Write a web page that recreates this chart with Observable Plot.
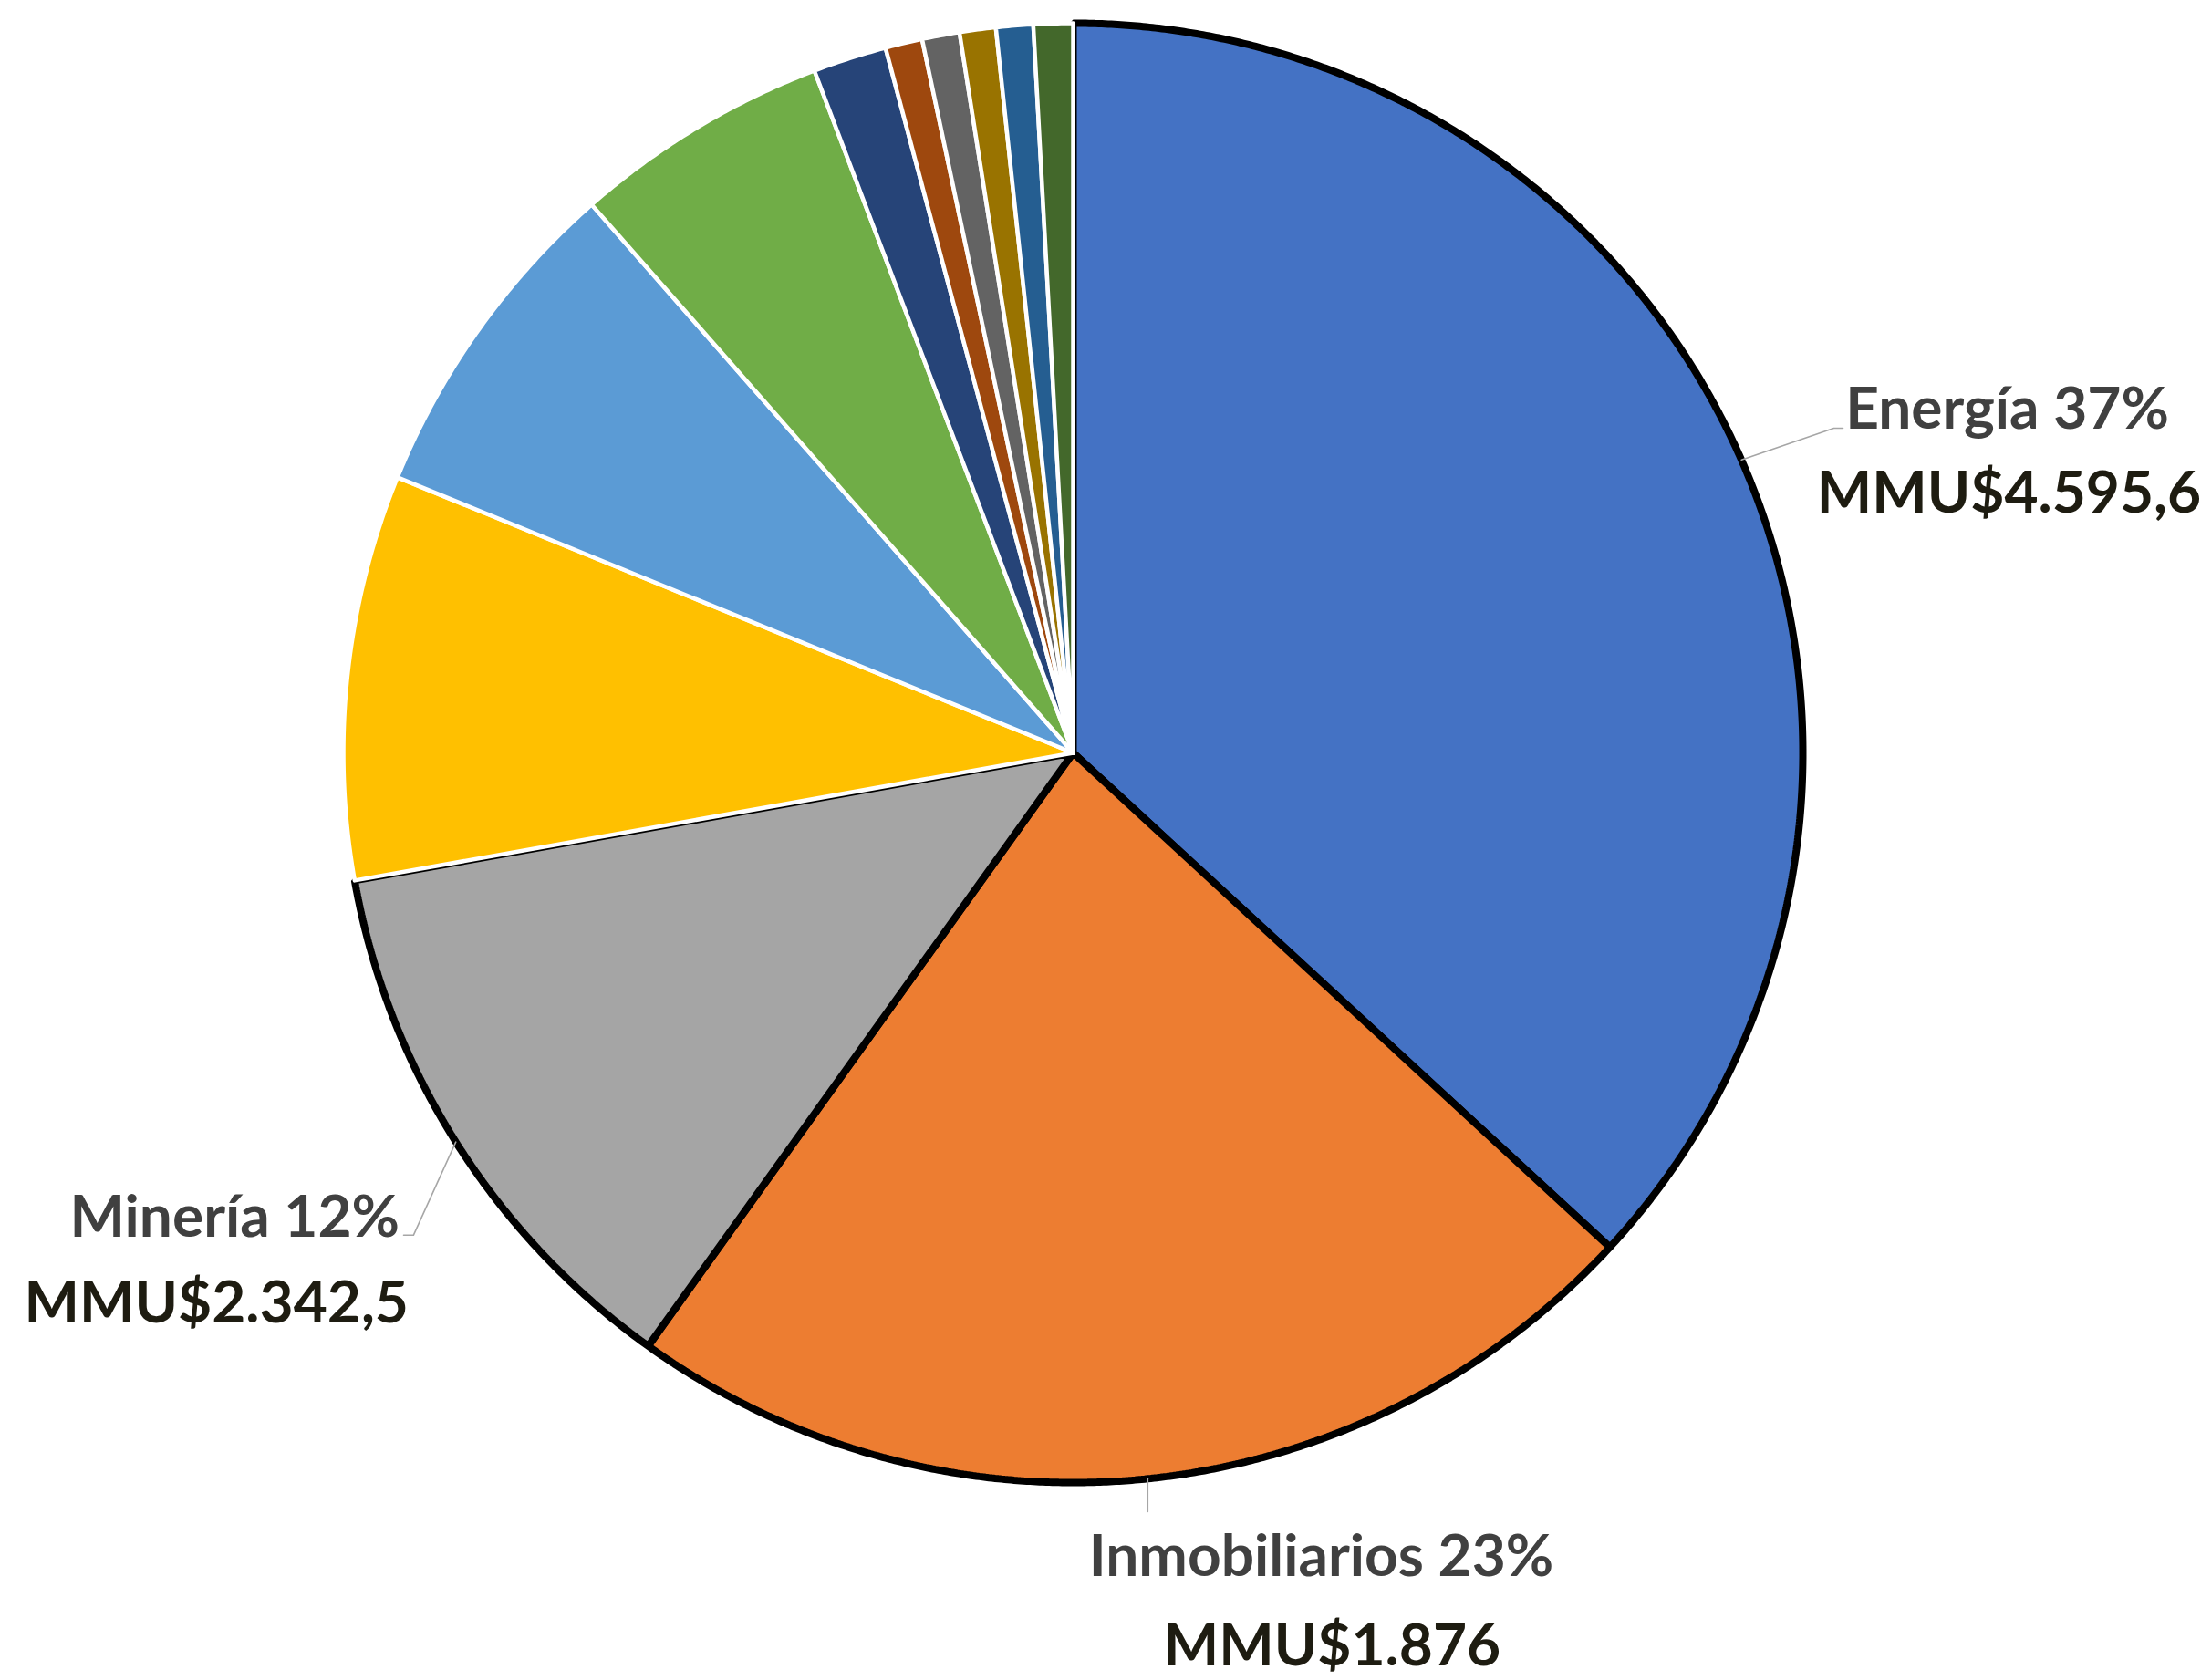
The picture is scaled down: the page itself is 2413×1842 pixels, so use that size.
<!DOCTYPE html>
<html><head><meta charset="utf-8">
<script src="https://cdn.jsdelivr.net/npm/d3@7"></script>
<script src="https://cdn.jsdelivr.net/npm/@observablehq/plot@0.6"></script>
<style>html,body{margin:0;padding:0;background:#fff;overflow:hidden}</style>
</head><body><div id="chart"></div>
<script>
// ---- data ----
const sectors = ["Energía","Inmobiliarios","Minería","Sector 4","Sector 5","Sector 6","Sector 7","Sector 8","Sector 9","Sector 10","Sector 11","Sector 12"];
const shares  = [36.85, 23.05, 12.31, 8.96, 7.37, 5.70, 1.63, 0.82, 0.83, 0.80, 0.82, 0.87];
const colors  = ["#4472C4","#ED7D31","#A5A5A5","#FFC000","#5B9BD5","#70AD47","#264478","#9E480E","#636363","#997300","#255E91","#43682B"];
const highlighted = ["Energía","Inmobiliarios","Minería"];
const labelSectors = ["Energía","Inmobiliarios","Minería"];
const labelAmounts = ["MMU$4.595,6","MMU$1.876","MMU$2.342,5"];

// ---- label layout (unit-circle coordinates) ----
const labelLayout = {
  "Energía":       {t:[1.28, 0.444],   a:[1.2825, 0.329], leader:[[1.0425, 0.445],[1.055, 0.445]]},
  "Inmobiliarios": {t:[0.34,-1.1275],  a:[0.355, -1.251], leader:"down", leaderEnd:-1.04},
  "Minería":       {t:[-1.149,-0.6625],a:[-1.174,-0.781], leader:[[-0.904,-0.661],[-0.9175,-0.661]]}
};

// ---- geometry from data ----
const total = d3.sum(shares);
const slices = [];
let acc = 0;
sectors.forEach((name, i) => {
  const a0 = acc / total * 2 * Math.PI;
  acc += shares[i];
  const a1 = acc / total * 2 * Math.PI;
  slices.push({name, share: shares[i], a0, a1, mid: (a0 + a1) / 2});
});
const slicePts = [];
for (const s of slices) {
  slicePts.push({name: s.name, x: 0, y: 0});
  const n = Math.max(4, Math.ceil((s.a1 - s.a0) / (Math.PI / 720)));
  for (let k = 0; k <= n; k++) {
    const t = s.a0 + (s.a1 - s.a0) * k / n;
    slicePts.push({name: s.name, x: Math.sin(t), y: Math.cos(t)});
  }
}
const hiPts = slicePts.filter(d => highlighted.includes(d.name));
const loPts = slicePts.filter(d => !highlighted.includes(d.name));

const labels = labelSectors.map((name, i) => {
  const s = slices.find(d => d.name === name);
  const L = labelLayout[name];
  return {name, title: `${name} ${Math.round(s.share / total * 100)}%`, amount: labelAmounts[i],
          tx: L.t[0], ty: L.t[1], ax: L.a[0], ay: L.a[1]};
});
const leaderPts = [];
for (const name of labelSectors) {
  const s = slices.find(d => d.name === name);
  const L = labelLayout[name];
  const sx = Math.sin(s.mid), sy = Math.cos(s.mid);
  leaderPts.push({name, x: sx, y: sy});
  if (L.leader === "down") leaderPts.push({name, x: sx, y: L.leaderEnd});
  else for (const p of L.leader) leaderPts.push({name, x: p[0], y: p[1]});
}

const textStyle = {fontSize: 64, fontWeight: "bold", fontFamily: "Lato", textAnchor: "middle", lineAnchor: "bottom"};

const chart = Plot.plot({
  width: 2413, height: 1842, margin: 0,
  x: {domain: [-1, 1], range: [376, 1976], axis: null},
  y: {domain: [-1, 1], range: [1625, 25], axis: null},
  color: {domain: sectors, range: colors},
  style: {background: "white", overflow: "visible"},
  marks: [
    Plot.line(hiPts, {x: "x", y: "y", z: "name", fill: "name", stroke: "black", strokeWidth: 8, strokeLinejoin: "miter", curve: "linear-closed"}),
    Plot.line(loPts, {x: "x", y: "y", z: "name", fill: "name", stroke: "white", strokeWidth: 4.5, strokeLinejoin: "round", curve: "linear-closed"}),
    Plot.line(leaderPts, {x: "x", y: "y", z: "name", stroke: "#A6A6A6", strokeWidth: 1.6}),
    Plot.text(labels, {x: "tx", y: "ty", text: "title", fill: "#404040", ...textStyle}),
    Plot.text(labels, {x: "ax", y: "ay", text: "amount", fill: "#1E1C11", ...textStyle})
  ]
});
document.getElementById("chart").appendChild(chart);
</script>
</body></html>
